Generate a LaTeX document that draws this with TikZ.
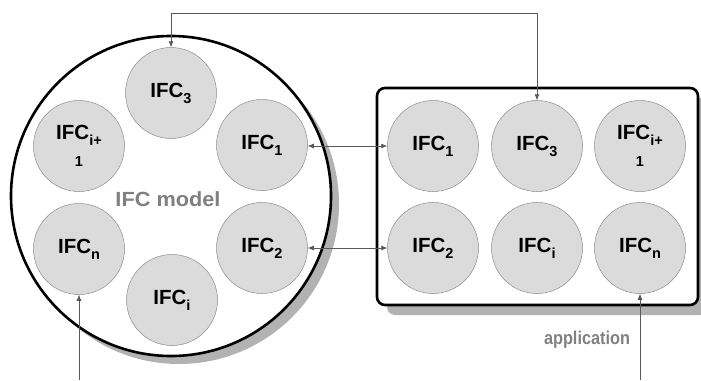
\documentclass[tikz,border=0pt]{standalone}
\usepackage{fontspec}
\setmainfont{Liberation Sans}
\usetikzlibrary{arrows.meta}

% lowered subscript for the component labels
\newcommand{\lowidx}[1]{\raisebox{-6pt}{\fontsize{14.5}{14.5}\selectfont #1}}

\begin{document}
\begin{tikzpicture}[x=1pt,y=-1pt,
  ifc/.style={circle, draw=black!45, line width=0.5pt, fill=black!14,
    minimum size=91pt, inner sep=0pt, align=center,
    font=\fontsize{20.5}{24}\selectfont\bfseries},
  caption/.style={text=black!50, inner sep=0pt},
  link/.style={draw=black!65, line width=0.7pt,
    {Latex[length=6pt,width=5pt]}-{Latex[length=6pt,width=5pt]}},
  feed/.style={draw=black!65, line width=0.7pt,
    -{Latex[length=6pt,width=5pt]}},
  shade/.style={fill=black!30}]
\useasboundingbox (0,0) rectangle (701,380);

% model ring with drop shadow
\fill[shade] (179,204) circle (160);
\draw[line width=2.6pt, fill=white] (171,196) circle (160);
\node[caption, font=\fontsize{20.5}{24}\selectfont\bfseries] (mlabel) at (168,199)
  {\scalebox{1.06}[1]{IFC model}};

% application frame with drop shadow
\fill[shade, rounded corners=8pt] (387,98) rectangle (708,315);
\draw[line width=2.6pt, fill=white, rounded corners=8pt] (377,88) rectangle (698,305);
\node[caption, font=\fontsize{18.5}{22}\selectfont\bfseries] (alabel) at (587,340)
  {\scalebox{0.88}[1]{application}};

% components inside the model
\node[ifc] (m3) at (171,93)  {IFC\lowidx{3}};
\node[ifc] (m1) at (262,145) {IFC\lowidx{1}};
\node[ifc] (m2) at (262,248) {IFC\lowidx{2}};
\node[ifc] (mi) at (172,300) {IFC\lowidx{i}};
\node[ifc] (mn) at (79,249)  {IFC\lowidx{n}};
\node[ifc] (mj) at (79,146)  {IFC\lowidx{i+}\\[-3pt]\lowidx{1}};

% components inside the application
\node[ifc] (a1) at (433,146) {IFC\lowidx{1}};
\node[ifc] (a3) at (537,146) {IFC\lowidx{3}};
\node[ifc] (aj) at (640,146) {IFC\lowidx{i+}\\[-3pt]\lowidx{1}};
\node[ifc] (a2) at (433,248) {IFC\lowidx{2}};
\node[ifc] (ai) at (537,248) {IFC\lowidx{i}};
\node[ifc] (an) at (640,248) {IFC\lowidx{n}};

% connectors
\coordinate (top) at (171,13);
\coordinate (inL) at (79,380);
\coordinate (inR) at (640,380);
\draw[link] (m3.north) -- (top) -| (a3.north);
\draw[link] (m1.east |- a1.west) -- (a1.west);
\draw[link] (m2.east |- a2.west) -- (a2.west);
\draw[feed] (inL) -- (mn.south);
\draw[feed] (inR) -- (an.south);
\end{tikzpicture}
\end{document}
